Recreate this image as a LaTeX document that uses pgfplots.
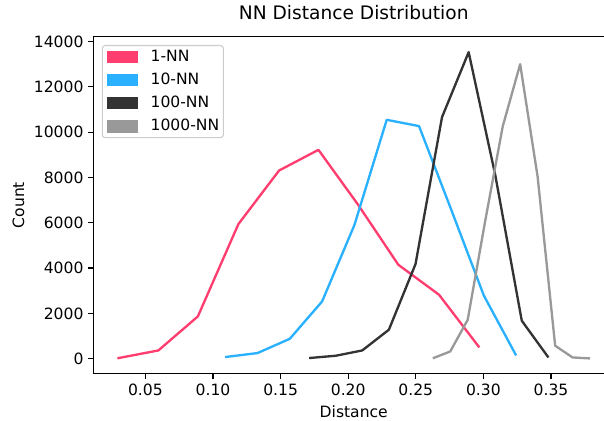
\documentclass[border=0pt]{standalone}
\usepackage{fontspec}
\setmainfont{DejaVu Sans}
\usepackage{pgfplots}
\pgfplotsset{compat=1.18}
\definecolor{nnred}{RGB}{255,61,111}
\definecolor{nnblue}{RGB}{41,176,255}
\definecolor{nnblack}{RGB}{51,51,51}
\definecolor{nngray}{RGB}{153,153,153}
\newcommand{\tfont}{\fontsize{11.2}{13.4}\selectfont}
\pgfplotsset{swatch/.style={legend image code/.code={\path[draw=none, fill=#1, fill opacity=1, sharp corners] (0pt,-4.5pt) rectangle (23pt,4.5pt);}}}
\begin{document}
\begin{tikzpicture}
\begin{axis}[
  name=ax,
  scale only axis,
  width=374.4pt, height=242.6pt,
  xmin=0.0118, xmax=0.3964,
  ymin=-655, ymax=14215,
  scaled y ticks=false, scaled x ticks=false,
  xtick={0.05,0.10,0.15,0.20,0.25,0.30,0.35},
  xticklabels={0.05,0.10,0.15,0.20,0.25,0.30,0.35},
  ytick={0,2000,4000,6000,8000,10000,12000,14000},
  yticklabels={0,2000,4000,6000,8000,10000,12000,14000},
  xtick pos=bottom, ytick pos=left,
  tick align=outside,
  major tick length=3.9pt,
  every tick/.style={black, line width=0.9pt},
  axis line style={line width=0.9pt, black},
  tick label style={font=\tfont},
  label style={font=\tfont},
  xlabel={Distance}, ylabel={Count},
  title={NN Distance Distribution},
  title style={font=\fontsize{13.4}{16}\selectfont, at={(axis description cs:0.5,1)}, anchor=base, yshift=6.0pt},
  legend style={font=\tfont, at={(0,1)}, anchor=north west, xshift=5.8pt, yshift=-6pt,
    draw=black!20, line width=0.8pt, rounded corners=2pt, fill=white, fill opacity=0.8, text opacity=1,
    inner xsep=3pt, inner ysep=3pt, row sep=6.5pt,
    nodes={inner sep=0pt, text height=8.2pt, text depth=2pt},
    /tikz/every odd column/.append style={column sep=8.8pt}},
  legend cell align=left,
  every axis plot/.append style={line width=1.68pt, line join=round},
]
\addplot[nnred, swatch=nnred] coordinates {
(0.0293,20) (0.0596,366) (0.0888,1866) (0.1188,5943) (0.1489,8308) (0.1780,9220) (0.2073,6800) (0.2371,4147) (0.2672,2824) (0.2970,499)};
\addlegendentry{1-NN}
\addplot[nnblue, swatch=nnblue] coordinates {
(0.1090,75) (0.1329,250) (0.1568,880) (0.1807,2528) (0.2046,5900) (0.2285,10545) (0.2524,10267) (0.2764,6550) (0.3003,2793) (0.3242,146)};
\addlegendentry{10-NN}
\addplot[nnblack, swatch=nnblack] coordinates {
(0.1711,31) (0.1908,132) (0.2104,366) (0.2301,1280) (0.2498,4178) (0.2694,10662) (0.2891,13530) (0.3088,8100) (0.3284,1677) (0.3481,57)};
\addlegendentry{100-NN}
\addplot[nngray, swatch=nngray] coordinates {
(0.2626,20) (0.2755,322) (0.2884,1720) (0.3014,6100) (0.3143,10250) (0.3272,13000) (0.3401,8040) (0.3531,573) (0.3660,57) (0.3789,13)};
\addlegendentry{1000-NN}
\end{axis}
\pgfresetboundingbox
\path[use as bounding box] ([xshift=-67.5pt,yshift=-34.1pt]ax.south west) rectangle ([xshift=367.4pt,yshift=26.4pt]ax.north west);
\end{tikzpicture}
\end{document}
